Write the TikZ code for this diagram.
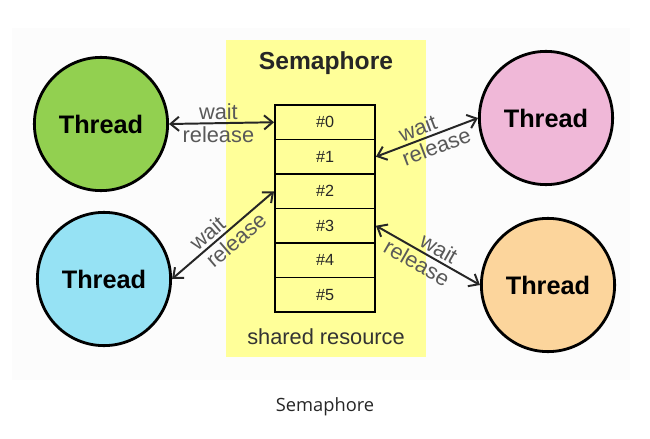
\documentclass[tikz,border=0pt]{standalone}
\usepackage{fontspec}
\setmainfont{Liberation Sans}
\newfontfamily\captionfont{Open Sans}
\usetikzlibrary{arrows.meta}
\definecolor{semyellow}{HTML}{FFFF99}
\definecolor{tgreen}{HTML}{92D050}
\definecolor{tpink}{HTML}{F0B8D8}
\definecolor{tcyan}{HTML}{96E2F4}
\definecolor{torange}{HTML}{FCD59C}

\begin{document}
\begin{tikzpicture}[x=0.025cm,y=-0.025cm,
 thread/.style={circle,draw,line width=2pt,minimum size=3.33cm,inner sep=0pt,
   font=\fontsize{18}{20}\selectfont\bfseries},
 cell/.style={draw,line width=1.3pt,minimum width=2.5cm,minimum height=0.8625cm,
   inner sep=0pt,font=\fontsize{11.5}{13}\selectfont,text=black!85},
 link/.style={{Straight Barb[length=6pt,width=10pt]}-{Straight Barb[length=6pt,width=10pt]},
   line width=1.4pt,black!85},
 lbl/.style={text=black!65,font=\fontsize{15.5}{17}\selectfont,inner sep=2pt}]
 \useasboundingbox (0,0) rectangle (650,439);
 \fill[black!1] (12,28) rectangle (630,380);
 \fill[semyellow] (226,40) rectangle (426,357);
 \node[font=\fontsize{17.5}{20}\selectfont\bfseries,text=black!85] (title) at (326,63) {Semaphore};
 % resource cells
 \foreach \i in {0,...,5}
   \node[cell] (c\i) at (325,{122.25+34.5*\i}) {\#\i};
 \node[font=\fontsize{15.5}{17}\selectfont,text=black!80] (shared) at (326,337) {shared resource};
 % threads
 \node[thread,fill=tgreen] (green) at (101,124) {Thread};
 \node[thread,fill=tpink] (pink) at (546,118) {Thread};
 \node[thread,fill=tcyan] (cyan) at (104,279) {Thread};
 \node[thread,fill=torange] (orange) at (548,285) {Thread};
 % wait / release
 \draw[link] (green.east) -- node[lbl,above,pos=0.47] {wait} node[lbl,below,pos=0.47] {release} (c0.west);
 \draw[link] (cyan.east) -- node[lbl,sloped,above,pos=0.42] {wait} node[lbl,sloped,below,pos=0.55] {release} (c2.west);
 \draw[link] (c1.east) -- node[lbl,sloped,above,pos=0.45] {wait} node[lbl,sloped,below,pos=0.55] {release} (pink.west);
 \draw[link] (c3.east) -- node[lbl,sloped,above,pos=0.55] {wait} node[lbl,sloped,below,pos=0.45] {release} (orange.west);
 \node[font=\captionfont\fontsize{13}{15}\selectfont,text=black!85] (caption) at (325,407) {Semaphore};
\end{tikzpicture}
\end{document}
